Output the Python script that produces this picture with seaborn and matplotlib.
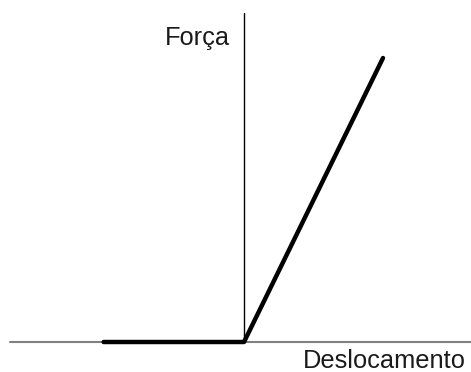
import matplotlib
matplotlib.use("Agg")
import matplotlib.pyplot as plt
import seaborn as sns
import pandas as pd

# Data (normalized displacement / force)
deslocamento = [-1.01, 0.0, 1.0]
forca = [0.0, 0.0, 1.0]
x_label = "Deslocamento"
y_label = "Força"

sns.set_style("white")
plt.rcParams['font.family'] = ['Liberation Sans', 'DejaVu Sans']

fig = plt.figure(figsize=(4.71, 3.72), dpi=100)
ax = fig.add_axes([0, 0, 1, 1])

# pixel mapping: origin at (244,342), 139 px per x unit, 284 px per y unit
ax.set_xlim(-244 / 139, (471 - 244) / 139)
ax.set_ylim(-(372 - 342) / 284, 342 / 284)
ax.axis("off")

# axes lines
ax.plot([(10 - 244) / 139, (471 - 244) / 139], [0, 0], color="#808080", lw=1.5, zorder=1)
ax.plot([0, 0], [0, (342 - 13) / 284], color="black", lw=1.0, zorder=1)

df = pd.DataFrame({"x": deslocamento, "y": forca})
sns.lineplot(data=df, x="x", y="y", ax=ax, color="black", lw=3.2, sort=False,
             solid_capstyle="round", zorder=3)

ax.text((197 - 244) / 139, (342 - 38) / 284, y_label, ha="center", va="center",
        fontsize=18.3, color="#1a1a1a")
ax.text((384 - 244) / 139, (342 - 361) / 284, x_label, ha="center", va="center",
        fontsize=18.3, color="#1a1a1a")

fig.savefig("out.png", dpi=100)
